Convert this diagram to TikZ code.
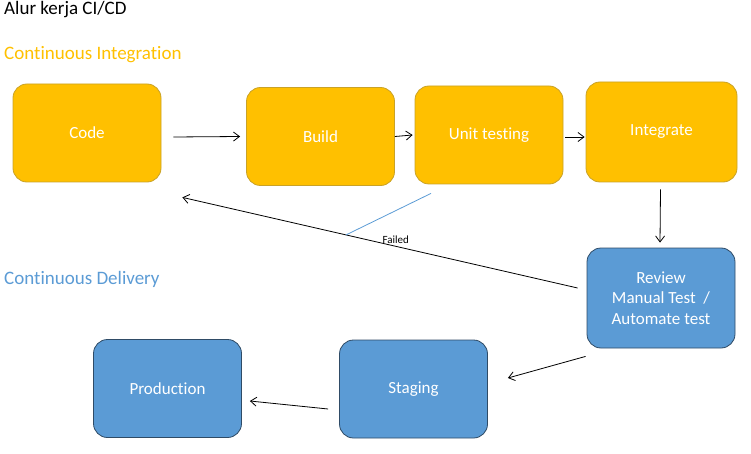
\documentclass[tikz,border=0pt]{standalone}
\usepackage{fontspec}
\setmainfont[Ligatures=NoCommon]{Carlito}
\usepackage{tikz}
\usetikzlibrary{
	positioning,
	arrows.meta
}
\definecolor{ciorange}{HTML}{FFC000}
\definecolor{ciorangeline}{HTML}{C9A227}
\definecolor{cdblue}{HTML}{5B9BD5}
\definecolor{cdblueline}{HTML}{2F4B66}
\tikzset{
	stage/.style={rectangle,rounded corners=14pt,minimum width=148pt,minimum height=98pt,
		text=white,align=center,line width=0.8pt,font=\fontsize{17}{20.5}\selectfont},
	ci/.style={stage,draw=ciorangeline,fill=ciorange},
	cd/.style={stage,draw=cdblueline,fill=cdblue},
	flow/.style={-{Straight Barb[length=6pt,width=9pt]},line width=0.8pt},
	heading/.style={anchor=west,inner sep=0pt,font=\fontsize{19}{22}\selectfont}
}

\begin{document}
\begin{tikzpicture}[x=1pt,y=-1pt]
		\useasboundingbox (0,0) rectangle (751,454);
		\draw
			node[heading]               (title)  at (4,10)  {Alur kerja CI/CD}
			node[heading,text=ciorange] (cihead) at (4,55)  {Continuous Integration}
			node[heading,text=cdblue]   (cdhead) at (4,279) {Continuous Delivery}

			node[ci] (code)       at (87,133)    {Code}
			node[ci] (build)      at (320.5,136.5) {Build}
			node[ci] (unit)       at (489,135)   {Unit testing}
			node[ci,minimum width=151pt,minimum height=100pt] (integrate) at (661.5,132) {Integrate}
			node[cd,minimum height=100pt] (review) at (661,298) {Review\\Manual Test \ /\\Automate test}
			node[cd] (staging)    at (413.5,389) {Staging}
			node[cd] (production) at (167.5,388.5) {Production}

			([shift={(12,4)}]code.east)      edge[flow] ([xshift=-6pt]build.west)
			(build.east)                     edge[flow] ([xshift=-2pt]unit.west)
			([shift={(2,2)}]unit.east)       edge[flow] ([shift={(-1,5)}]integrate.west)
			([shift={(-1,7)}]integrate.south) edge[flow] ([shift={(-1,-5)}]review.north)
			([shift={(-1,8)}]review.south west) edge[flow] ([shift={(20,-11)}]staging.east)
			([shift={(-11,20)}]staging.west) edge[flow] ([shift={(8,12.5)}]production.east)
		;
		\draw[flow] ([shift={(-9,-10)}]review.west) -- ([shift={(21,15)}]code.south east)
			node[pos=0.46,above,inner sep=2pt,font=\fontsize{11}{13}\selectfont] (failed) {Failed}
			coordinate[pos=0.586] (hit);
		\draw[cdblue,line width=0.8pt] ([shift={(-58,9)}]unit.south) -- (hit);
	\end{tikzpicture}
\end{document}
